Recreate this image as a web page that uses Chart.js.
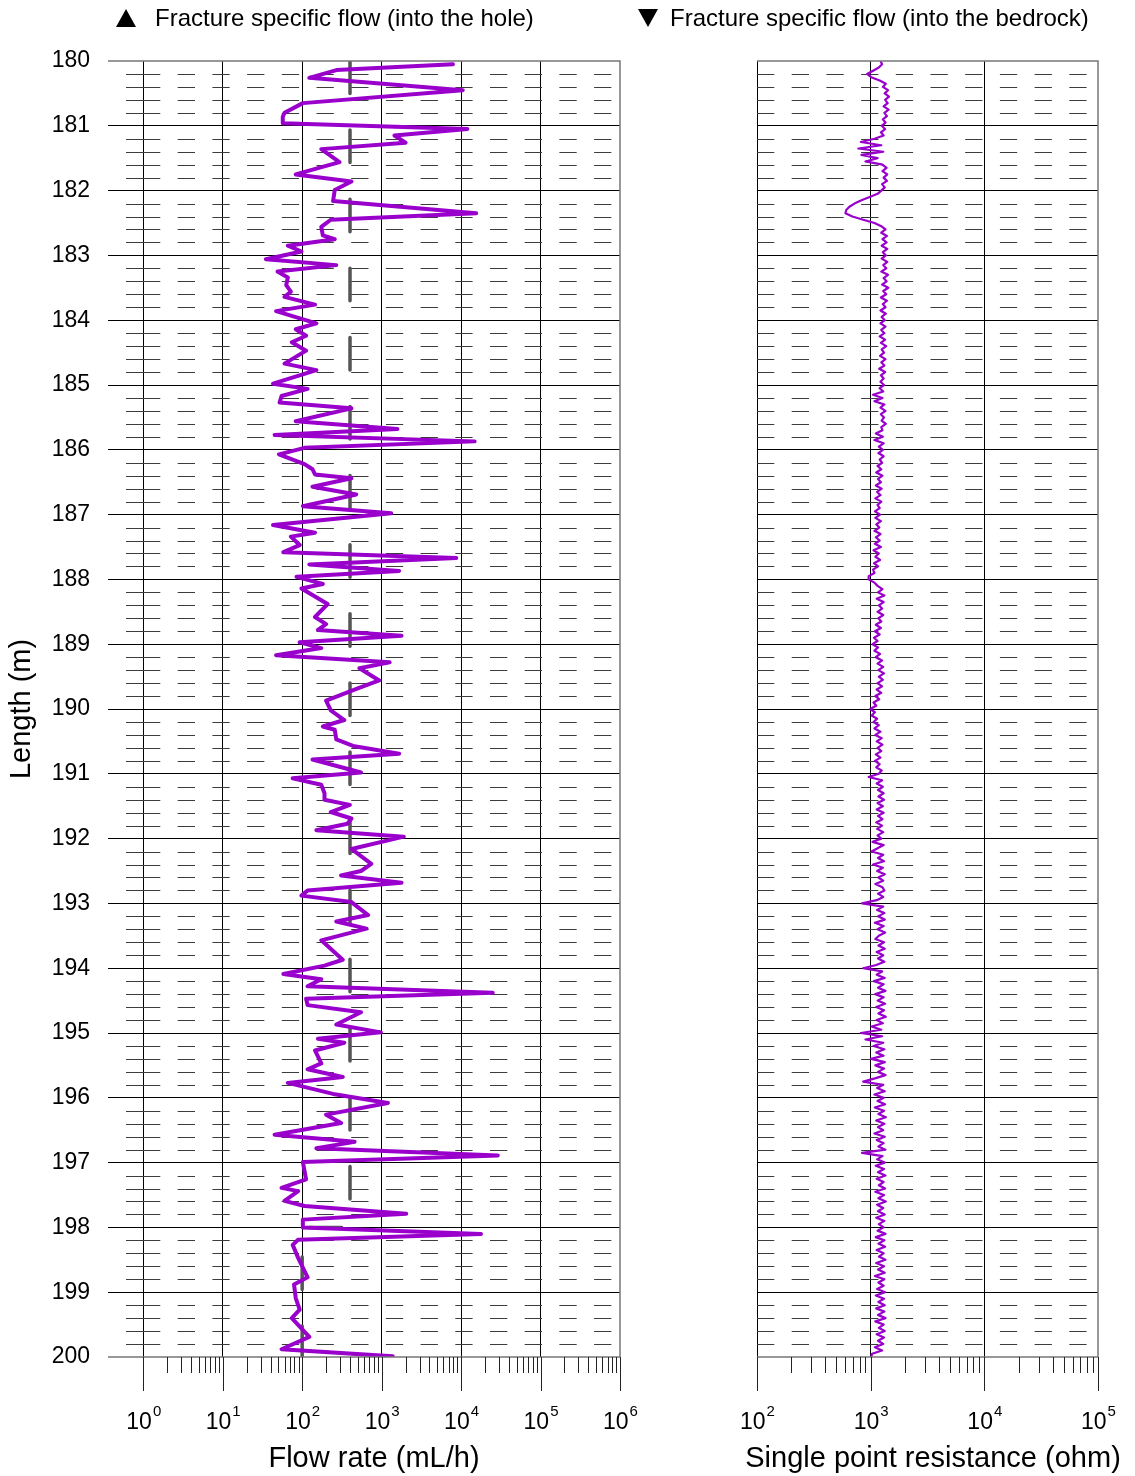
<!DOCTYPE html>
<html>
<head>
<meta charset="utf-8">
<script src="https://cdn.jsdelivr.net/npm/chart.js@4.4.1/dist/chart.umd.min.js"></script>
<style>
    html, body { margin: 0; padding: 0; background: #fff; }
    #page { position: relative; width: 1135px; height: 1476px; overflow: hidden;
            font-family: 'Liberation Sans', Arial, sans-serif; }
    #page canvas { position: absolute; top: 0; }
    #flowCanvas { left: 0; }
    #resCanvas { left: 640px; }
    .key { position: absolute; top: 6px; font-size: 24px; line-height: 24px; color: #000; white-space: nowrap; }
    .tri { position: absolute; width: 0; height: 0; border-left: 10px solid transparent; border-right: 10px solid transparent; }
    .tri.up { top: 9px; border-bottom: 18px solid #000; }
    .tri.down { top: 9px; border-top: 18px solid #000; }
</style>
</head>
<body>
<div id="page">
    <canvas id="flowCanvas" width="640" height="1476"></canvas>
    <canvas id="resCanvas" width="495" height="1476"></canvas>
    <div class="tri up" style="left:116px"></div>
    <div class="key" style="left:155px">Fracture specific flow (into the hole)</div>
    <div class="tri down" style="left:638px"></div>
    <div class="key" style="left:670px">Fracture specific flow (into the bedrock)</div>
</div>
<script>
// ── Flow log (mL/h) against borehole length (m) ─────────────────────────────
const flowDepth = [
    180.05, 180.14, 180.26, 180.45, 180.65, 180.80, 180.86, 180.96,
    181.05, 181.15, 181.26, 181.36, 181.56, 181.75, 181.86, 181.99,
    182.16, 182.35, 182.45, 182.56, 182.69, 182.75, 182.85, 182.94,
    183.06, 183.15, 183.25, 183.34, 183.46, 183.56, 183.64, 183.76, 183.86,
    184.05, 184.14, 184.24, 184.34, 184.47, 184.67, 184.77, 184.98,
    185.06, 185.17, 185.27, 185.36, 185.56, 185.68, 185.77, 185.87, 185.97,
    186.07, 186.22, 186.30, 186.38, 186.44, 186.57, 186.69, 186.87, 186.98,
    187.16, 187.28, 187.34, 187.47, 187.58, 187.67, 187.77, 187.87, 187.96,
    188.07, 188.14, 188.38, 188.58, 188.69, 188.78, 188.87, 188.97,
    189.06, 189.17, 189.28, 189.37, 189.56, 189.68, 189.87,
    190.02, 190.17, 190.27, 190.32, 190.47, 190.57, 190.69, 190.78, 190.98,
    191.07, 191.17, 191.30, 191.40, 191.48, 191.59, 191.69, 191.77, 191.87, 191.97,
    192.16, 192.39, 192.50, 192.57, 192.68, 192.80, 192.88, 192.98,
    193.18, 193.28, 193.39, 193.57, 193.87, 193.96,
    194.09, 194.17, 194.28, 194.38, 194.47, 194.57, 194.68, 194.87, 194.99,
    195.09, 195.15, 195.27, 195.47, 195.56, 195.68, 195.77, 195.94,
    196.08, 196.26, 196.39, 196.57, 196.68, 196.78, 196.89, 196.99,
    197.26, 197.39, 197.44, 197.59, 197.67, 197.79, 197.88,
    198.00, 198.10, 198.19, 198.27, 198.47, 198.77, 198.88,
    199.09, 199.27, 199.40, 199.69, 199.88, 199.99
];
const flowRate = [
    7900, 270, 123, 10500, 102, 60, 57, 57,
    12000, 1450, 2000, 174, 295, 83, 417, 257,
    245, 15500, 229, 174, 182, 257, 66, 98,
    35, 269, 49, 66, 63, 72, 60, 145, 47,
    151, 83, 112, 74, 112, 60, 151, 43,
    117, 55, 52, 417, 83, 1580, 45, 14800, 107,
    51, 107, 135, 145, 417, 135, 479, 102, 1320,
    43, 145, 72, 93, 58, 8700, 123, 1660, 85,
    182, 98, 209, 145, 200, 158, 1780, 93,
    174, 47, 1260, 525, 933, 501, 200,
    229, 339, 182, 257, 269, 437, 1660, 135, 550,
    76, 174, 191, 191, 398, 229, 417, 372, 151, 1900,
    417, 741, 550, 309, 1780, 117, 98, 417,
    676, 269, 646, 174, 324, 191,
    58, 174, 117, 25000, 112, 117, 550, 269, 977,
    158, 339, 145, 174, 117, 324, 66, 245,
    1200, 200, 309, 45, 457, 151, 29000, 102,
    112, 55, 89, 60, 107, 2040, 102,
    102, 17800, 89, 76, 89, 117, 79,
    83, 93, 74, 123, 55, 1380
];

// Lower measurement limit (mL/h)
const limitDepth = [180, 198, 198, 200];
const limitFlow = [400, 400, 100, 100];

// ── Single point resistance (ohm), one reading every 0.05 m from 180 m ─────
const resStart = 180;
const resStep = 0.05;
const resistance = [
    // 180
    1220, 1260, 1180, 1050, 930, 1010, 1200, 1360, 1280, 1420,
    1330, 1450, 1340, 1410, 1300, 1440, 1320, 1390, 1280, 1350,
    // 181
    1250, 1340, 1230, 1300, 1080, 820, 1240, 780, 1290, 830,
    1150, 900, 1270, 1380, 1270, 1400, 1300, 1390, 1260, 1330,
    // 182
    1240, 1150, 980, 830, 720, 650, 610, 600, 690, 860,
    1080, 1240, 1350, 1240, 1390, 1270, 1380, 1250, 1400, 1280,
    // 183
    1360, 1250, 1400, 1290, 1370, 1240, 1420, 1300, 1380, 1260,
    1430, 1290, 1370, 1230, 1390, 1280, 1350, 1220, 1360, 1250,
    // 184
    1330, 1220, 1350, 1240, 1320, 1200, 1340, 1230, 1370, 1250,
    1310, 1210, 1350, 1240, 1320, 1190, 1340, 1230, 1300, 1220,
    // 185
    1310, 1200, 1290, 1050, 1270, 1080, 1320, 1220, 1350, 1230,
    1310, 1250, 1360, 1240, 1270, 1110, 1280, 1080, 1300, 1180,
    // 186
    1280, 1170, 1300, 1200, 1260, 1150, 1240, 1120, 1270, 1160,
    1230, 1110, 1250, 1140, 1220, 1100, 1240, 1150, 1200, 1090,
    // 187
    1210, 1100, 1230, 1120, 1190, 1080, 1220, 1110, 1200, 1090,
    1230, 1060, 1180, 1100, 1210, 1070, 1160, 1050, 1080, 960,
    // 188
    960, 1080, 1150, 1270, 1160, 1320, 1130, 1300, 1180, 1260,
    1150, 1290, 1170, 1240, 1110, 1230, 1090, 1200, 1070, 1150,
    // 189
    1040, 1160, 1080, 1210, 1110, 1260, 1150, 1290, 1170, 1310,
    1180, 1280, 1150, 1260, 1130, 1240, 1100, 1190, 1060, 1120,
    // 190
    990, 1090, 1020, 1140, 1060, 1180, 1080, 1220, 1100, 1250,
    1130, 1270, 1150, 1240, 1110, 1220, 1090, 1200, 1120, 1250,
    // 191
    1180, 960, 1260, 1130, 1280, 1160, 1300, 1170, 1310, 1150,
    1280, 1130, 1300, 1160, 1270, 1120, 1260, 1140, 1290, 1150,
    // 192
    1240, 1040, 1300, 1150, 1020, 1290, 1160, 1310, 1050, 1280,
    1140, 1330, 1170, 1290, 1100, 1270, 1320, 1160, 1290, 1130,
    // 193
    840, 1290, 1140, 1320, 1160, 1330, 1090, 1300, 1150, 1340,
    1180, 1100, 1310, 1170, 1330, 1130, 1290, 1160, 1320, 1120,
    // 194
    860, 1260, 1130, 1330, 1070, 1300, 1160, 1350, 1100, 1300,
    1150, 1340, 1120, 1310, 1170, 1360, 1130, 1280, 1020, 1240,
    // 195
    820, 1260, 900, 1290, 1060, 1320, 1120, 1300, 1010, 1330,
    1100, 1310, 1160, 1350, 1090, 860, 1290, 1140, 1330, 1080,
    // 196
    1300, 1150, 1340, 1090, 1310, 1170, 1360, 1120, 1320, 1160,
    1290, 1080, 1330, 1130, 1300, 1170, 1350, 840, 1270, 1140,
    // 197
    1330, 1110, 1310, 1160, 1350, 1130, 1300, 1180, 1340, 1100,
    1310, 1170, 1360, 1140, 1290, 1160, 1330, 1120, 1320, 1180,
    // 198
    1300, 1150, 1350, 1110, 1320, 1170, 1340, 1130, 1300, 1180,
    1350, 1120, 1310, 1160, 1330, 1090, 1320, 1170, 1300, 1140,
    // 199
    1340, 1110, 1310, 1170, 1330, 1120, 1320, 1160, 1350, 1100,
    1300, 1180, 1330, 1130, 1310, 1160, 1290, 1090, 1260, 1030,
    // 200
    1010
];

// Decade exponents labelled on each x axis
const flowDecades = [0, 1, 2, 3, 4, 5, 6];
const resDecades = [2, 3, 4, 5];

document.addEventListener("DOMContentLoaded", () => {

    const FONT = "'Liberation Sans', Arial, sans-serif";
    Chart.defaults.font.family = FONT;
    Chart.defaults.color = '#000';

    const PURPLE = '#9900cc';
    const minorStep = 0.2;

    // ── Grid, frame, bottom ticks and 10^n labels ─────────────────────────
    const logFrame = {
        id: 'logFrame',
        beforeDatasetsDraw(chart, args, o) {
            const { ctx, chartArea: a, scales: { x, y } } = chart;
            const x0 = Math.round(x.getPixelForValue(Math.pow(10, o.decades[0])));
            ctx.save();
            ctx.lineWidth = 1;
            ctx.strokeStyle = '#3c3c3c';
            for (let m = y.min; m < y.max; m++) {
                for (let k = 1; k < 5; k++) {
                    const py = Math.round(y.getPixelForValue(m + k * minorStep)) + 0.5;
                    ctx.setLineDash([17.3, 17.4]);
                    ctx.beginPath(); ctx.moveTo(x0, py); ctx.lineTo(a.right, py); ctx.stroke();
                    if (o.stubs) {
                        ctx.setLineDash([]);
                        ctx.beginPath(); ctx.moveTo(x0 - 17, py); ctx.lineTo(x0, py); ctx.stroke();
                    }
                }
            }
            ctx.restore();
        },
        afterDraw(chart, args, o) {
            const { ctx, chartArea: a, scales: { x } } = chart;
            ctx.save();

            ctx.strokeStyle = '#777';
            ctx.lineWidth = 1.5;
            ctx.beginPath();
            ctx.moveTo(a.left, a.top); ctx.lineTo(a.right, a.top);
            ctx.lineTo(a.right, a.bottom); ctx.lineTo(a.left, a.bottom);
            ctx.stroke();

            const tick = (px, len) => {
                ctx.beginPath(); ctx.moveTo(px, a.bottom); ctx.lineTo(px, a.bottom + len); ctx.stroke();
            };
            ctx.strokeStyle = '#222';
            ctx.lineWidth = 1;
            o.decades.forEach((e, i) => {
                const v = Math.pow(10, e);
                tick(Math.round(x.getPixelForValue(v)) + 0.5, 34);
                if (i < o.decades.length - 1) {
                    for (let k = 2; k <= 9; k++) tick(Math.round(x.getPixelForValue(k * v)) + 0.5, 16);
                }
            });

            ctx.fillStyle = '#000';
            ctx.textBaseline = 'alphabetic';
            ctx.textAlign = 'left';
            o.decades.forEach(e => {
                const px = x.getPixelForValue(Math.pow(10, e));
                ctx.font = `23px ${FONT}`;
                const wBase = ctx.measureText('10').width;
                ctx.font = `15px ${FONT}`;
                const wExp = ctx.measureText(String(e)).width;
                const left = px - (wBase + wExp) / 2;
                ctx.font = `23px ${FONT}`;
                ctx.fillText('10', left, 1429);
                ctx.font = `15px ${FONT}`;
                ctx.fillText(String(e), left + wBase + 1, 1416);
            });

            ctx.font = `29px ${FONT}`;
            ctx.textAlign = 'center';
            ctx.fillText(o.title, o.titleX, 1467);
            ctx.restore();
        }
    };

    const hideEdges = c => (c.tick && (c.tick.value === 180 || c.tick.value === 200)) ? 'rgba(0,0,0,0)' : '#000';
    const decadeTicks = exps => scale => { scale.ticks = exps.map(e => ({ value: Math.pow(10, e) })); };

    function depthAxis(width, showLabels) {
        return {
            type: 'linear',
            reverse: true,
            min: 180,
            max: 200,
            border: { display: false },
            grid: { color: hideEdges, lineWidth: 1, drawTicks: false },
            ticks: { display: showLabels, stepSize: 1, padding: 18, font: { size: 23 }, color: '#000' },
            title: {
                display: showLabels,
                text: 'Length (m)',
                font: { size: 29 },
                color: '#000',
                padding: { top: 5, bottom: 0 }
            },
            afterFit: s => { s.width = width; }
        };
    }

    function logAxis(min, max, gridExps) {
        return {
            type: 'logarithmic',
            position: 'bottom',
            min: min,
            max: max,
            afterBuildTicks: decadeTicks(gridExps),
            border: { display: false },
            grid: { color: '#000', lineWidth: 1, drawTicks: false },
            ticks: { display: false },
            afterFit: s => { s.height = 119; }
        };
    }

    // ── Flow rate panel ───────────────────────────────────────────────────
    new Chart(document.getElementById('flowCanvas'), {
        type: 'line',
        data: {
            datasets: [
                {
                    label: 'Flow rate',
                    data: flowDepth.map((d, i) => ({ x: flowRate[i], y: d })),
                    borderColor: PURPLE,
                    borderWidth: 4,
                    borderJoinStyle: 'round',
                    borderCapStyle: 'round',
                    pointRadius: 0,
                    tension: 0,
                    order: 1
                },
                {
                    label: 'Lower limit',
                    data: limitDepth.map((d, i) => ({ x: limitFlow[i], y: d })),
                    borderColor: '#555',
                    borderWidth: 3.5,
                    borderDash: [32.5, 36.6],
                    borderCapStyle: 'round',
                    pointRadius: 0,
                    tension: 0,
                    order: 2
                }
            ]
        },
        options: {
            responsive: false,
            animation: false,
            devicePixelRatio: 1,
            indexAxis: 'y',
            layout: { padding: { top: 61, right: 20, left: 0, bottom: 0 } },
            plugins: {
                legend: { display: false },
                tooltip: { enabled: false },
                logFrame: { decades: flowDecades, stubs: true, title: 'Flow rate (mL/h)', titleX: 374 }
            },
            scales: {
                x: logAxis(0.36, 1e6, flowDecades.slice(0, -1)),
                y: depthAxis(108, true)
            }
        },
        plugins: [logFrame]
    });

    // ── Single point resistance panel ─────────────────────────────────────
    new Chart(document.getElementById('resCanvas'), {
        type: 'line',
        data: {
            datasets: [{
                label: 'Single point resistance',
                data: resistance.map((v, i) => ({ x: v, y: resStart + i * resStep })),
                borderColor: PURPLE,
                borderWidth: 2.2,
                borderJoinStyle: 'round',
                pointRadius: 0,
                tension: 0
            }]
        },
        options: {
            responsive: false,
            animation: false,
            devicePixelRatio: 1,
            indexAxis: 'y',
            layout: { padding: { top: 61, right: 37, left: 0, bottom: 0 } },
            plugins: {
                legend: { display: false },
                tooltip: { enabled: false },
                logFrame: { decades: resDecades, stubs: false, title: 'Single point resistance (ohm)', titleX: 293 }
            },
            scales: {
                x: logAxis(100, 1e5, resDecades.slice(0, -1)),
                y: depthAxis(117, false)
            }
        },
        plugins: [logFrame]
    });
});
</script>
</body>
</html>
